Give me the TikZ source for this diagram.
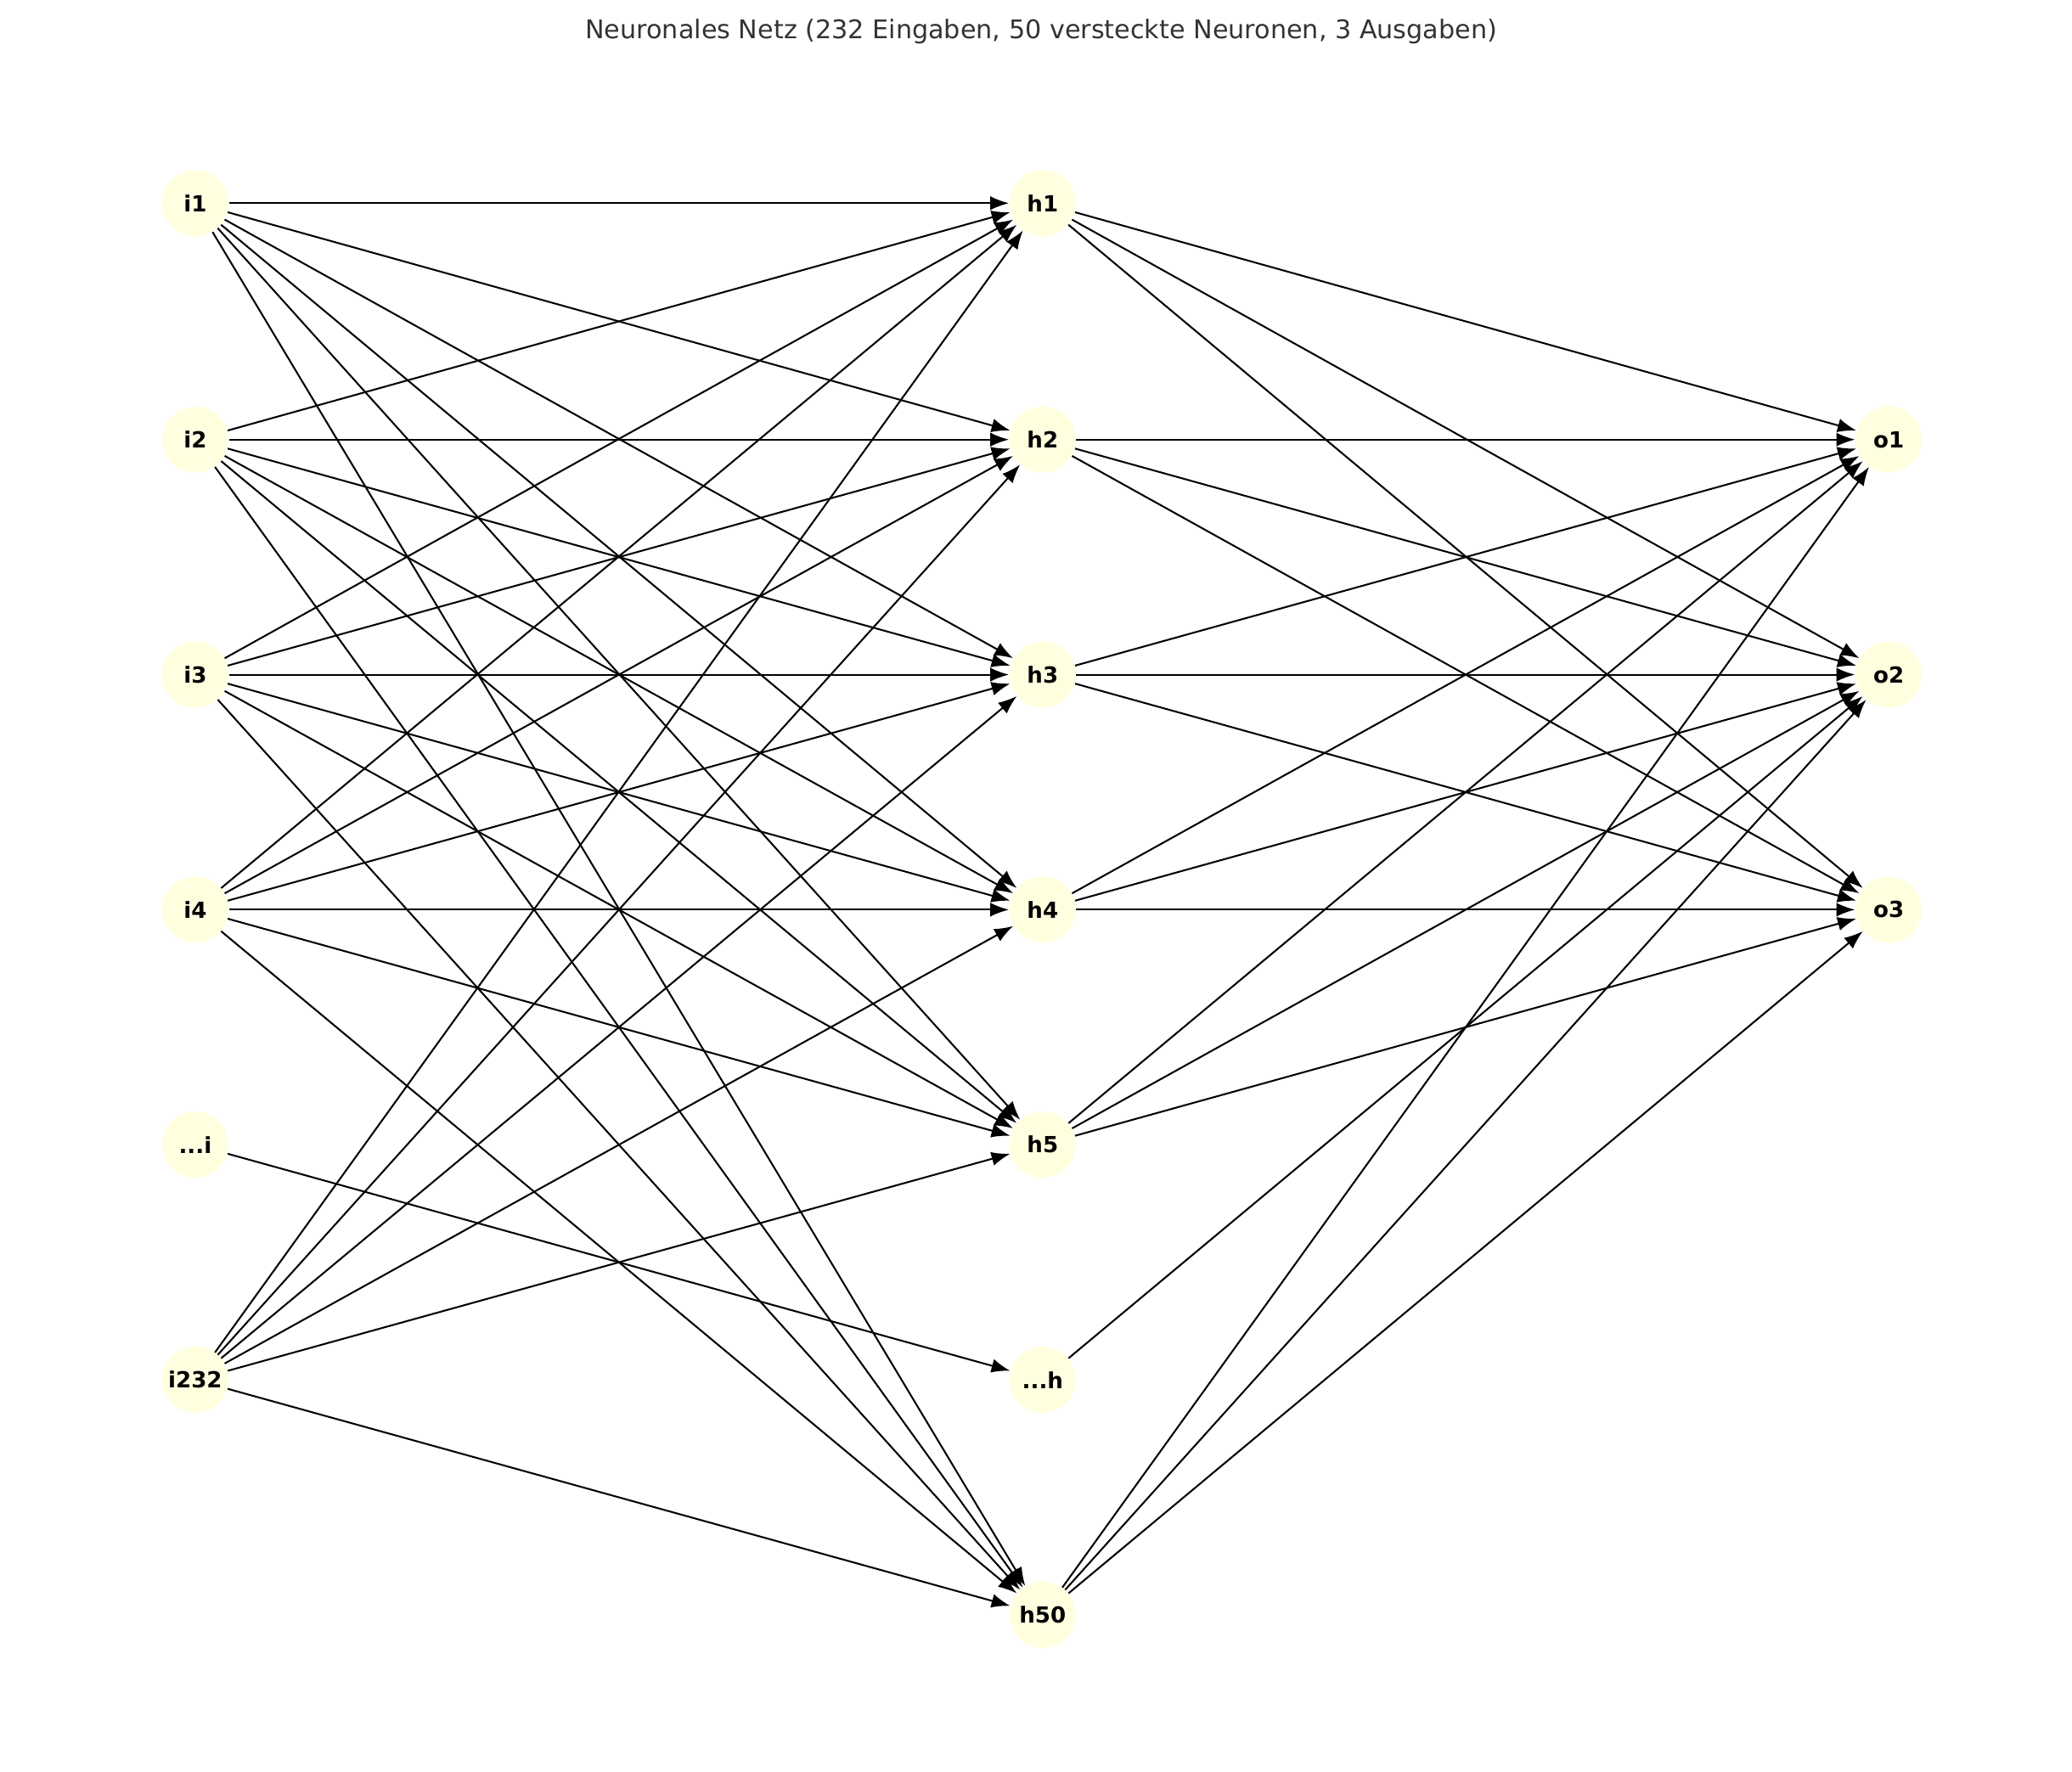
\documentclass[tikz,border=0pt]{standalone}
\usepackage{fontspec}
\setmainfont{DejaVu Sans}
\usetikzlibrary{arrows.meta}
\definecolor{nodefill}{HTML}{FFFFE0}
\definecolor{titlegray}{HTML}{333333}
\begin{document}
\begin{tikzpicture}[x=0.02cm,y=-0.02cm,
  neuron/.style={circle,fill=nodefill,minimum size=1cm,inner sep=0pt,font=\bfseries\fontsize{9.5}{11}\selectfont},
  conn/.style={-{Latex[length=8pt,width=6pt]},line width=0.75pt}]
\useasboundingbox (0,0) rectangle (1560,1334);
\node[font=\fontsize{11}{13}\selectfont,text=titlegray] (title) at (784,24) {Neuronales Netz (232 Eingaben, 50 versteckte Neuronen, 3 Ausgaben)};
\foreach \n/\y in {i1/153,i2/331,i3/508,i4/685,ii/862,i232/1039}{}
\node[neuron] (i1) at (147,153) {i1};
\node[neuron] (i2) at (147,331) {i2};
\node[neuron] (i3) at (147,508) {i3};
\node[neuron] (i4) at (147,685) {i4};
\node[neuron] (ii) at (147,862) {...i};
\node[neuron] (i232) at (147,1039) {i232};
\node[neuron] (h1) at (785,153) {h1};
\node[neuron] (h2) at (785,331) {h2};
\node[neuron] (h3) at (785,508) {h3};
\node[neuron] (h4) at (785,685) {h4};
\node[neuron] (h5) at (785,862) {h5};
\node[neuron] (hh) at (785,1039) {...h};
\node[neuron] (h50) at (785,1216) {h50};
\node[neuron] (o1) at (1422,331) {o1};
\node[neuron] (o2) at (1422,508) {o2};
\node[neuron] (o3) at (1422,685) {o3};
\foreach \a in {i1,i2,i3,i4,i232}
  \foreach \b in {h1,h2,h3,h4,h5,h50}
    \draw[conn] (\a) -- (\b);
\draw[conn] (ii) -- (hh);
\foreach \a in {h1,h2,h3,h4,h5,h50}
  \foreach \b in {o1,o2,o3}
    \draw[conn] (\a) -- (\b);
\draw[conn] (hh) -- (o2);
\end{tikzpicture}
\end{document}
